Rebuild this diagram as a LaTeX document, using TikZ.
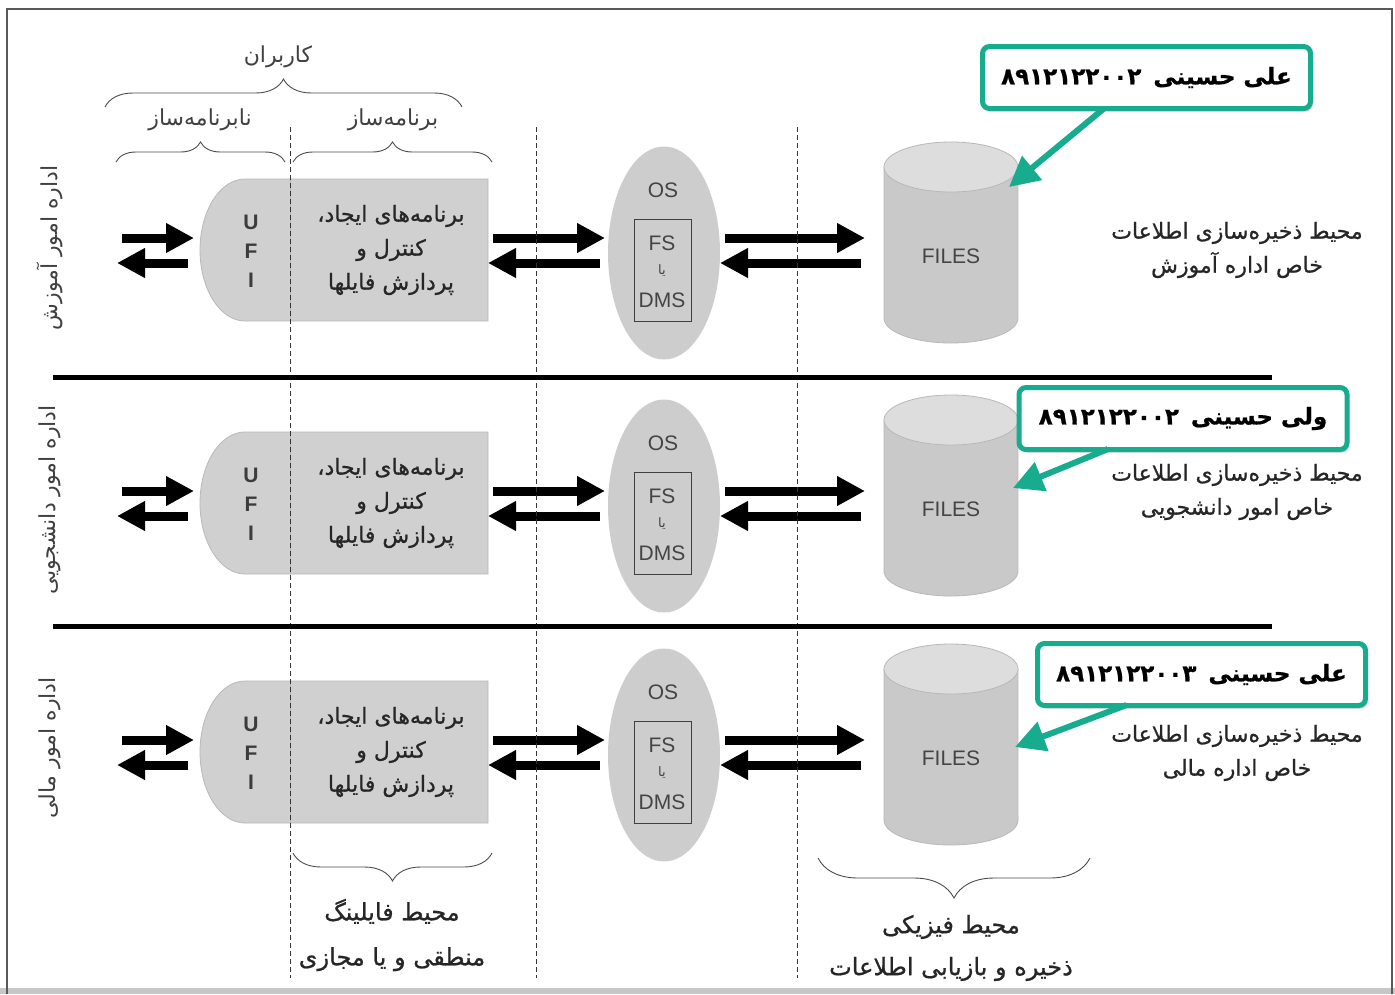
\documentclass[tikz,border=0pt]{standalone}
\usepackage{fontspec}
\setmainfont{Liberation Sans}
\newfontfamily\fafont[Script=Arabic, FakeBold=0.8]{DejaVu Sans}
\newfontfamily\falight[Script=Arabic]{DejaVu Sans}
\TeXXeTstate=1
\usetikzlibrary{arrows.meta,shapes.geometric,decorations.pathreplacing,shadows}

\definecolor{panelgray}{HTML}{D0D0D0}
\definecolor{edgegray}{HTML}{B8B8B8}
\definecolor{cylbody}{HTML}{C9C9C9}
\definecolor{cyltop}{HTML}{DDDDDD}
\definecolor{osgray}{HTML}{CDCDCD}
\definecolor{inkgray}{HTML}{262626}
\definecolor{latgray}{HTML}{444444}
\definecolor{calloutteal}{HTML}{17AC8E}

% right-to-left Persian text runs
\newcommand\fatxt[1]{{\fafont\beginR #1\endR}}
\newcommand\falighttxt[1]{{\falight\beginR #1\endR}}

\tikzset{
  framestyle/.style={draw=black!65, line width=1.2pt},
  sepline/.style={line width=5pt, black},
  dashline/.style={draw=black!80, line width=0.9pt, dash pattern=on 5pt off 3pt},
  bracestyle/.style={draw=black!70, line width=0.9pt, decorate},
  blkarrow/.style={line width=9pt, -{Triangle[length=28pt,width=28pt]}},
  callarrow/.style={draw=calloutteal, line width=6pt, -{Triangle[length=30pt,width=30pt]}},
  callbox/.style={draw=calloutteal, line width=5pt, rounded corners=7pt, fill=white,
    minimum width=328pt, minimum height=62pt, inner sep=0pt,
    drop shadow={opacity=0.35, shadow xshift=2pt, shadow yshift=-3pt},
    font=\fafont\bfseries\fontsize{23}{28}\selectfont},
  fatext/.style={text=inkgray, align=center, inner sep=0pt, font=\fontsize{22}{34}\selectfont},
  lattext/.style={text=latgray, inner sep=0pt, font=\fontsize{21}{25}\selectfont},
  sidetext/.style={text=black!75, align=center, inner sep=0pt, rotate=90, font=\fontsize{22}{26}\selectfont},
}

\begin{document}
\begin{tikzpicture}[x=1pt, y=-1pt]
\useasboundingbox (0,0) rectangle (1395,994);
\fill[white] (0,0) rectangle (1395,994);

% outer frame and bottom band
\fill[black!22] (0,988) rectangle (1395,994);
\draw[framestyle] (7,994) -- (7,9) -- (1392,9) -- (1392,994);

% users and their two groups
\node[fatext, text=black!75] (users) at (278,57) {\falighttxt{کاربران}};
\draw[bracestyle, decoration={brace, amplitude=28pt}] (105,107) -- (462,107);
\node[fatext, text=black!75] (nonprog) at (200,120) {\falighttxt{نابرنامه‌ساز}};
\node[fatext, text=black!75] (prog) at (393,120) {\falighttxt{برنامه‌ساز}};
\draw[bracestyle, decoration={brace, amplitude=20pt}] (116,162) -- (285,162);
\draw[bracestyle, decoration={brace, amplitude=20pt}] (293,162) -- (492,162);

% one band per department
\foreach \r/\dy in {1/0, 2/253, 3/502}{
\begin{scope}[yshift=-\dy pt]
  % user interface + programs panel
  \draw[fill=panelgray, draw=edgegray, line width=0.8pt]
    (488,179) -- (245,179) .. controls (220,179) and (200,211) .. (200,250)
    .. controls (200,289) and (220,321) .. (245,321) -- (488,321) -- cycle;
  \draw[edgegray, line width=0.8pt] (290,179) -- (290,321);
  \node[lattext, align=center, font=\bfseries\fontsize{21}{29}\selectfont, text=inkgray!90]
    (ufi\r) at (251,251) {U\\F\\I};
  \node[fatext, minimum width=198pt, minimum height=142pt] (prg\r) at (391,250)
    {\fatxt{برنامه‌های ایجاد،}\\\fatxt{کنترل و}\\\fatxt{پردازش فایلها}};

  % operating system with FS / DMS
  \node[ellipse, fill=osgray, minimum width=112pt, minimum height=213pt, inner sep=0pt]
    (os\r) at (664,253) {};
  \node[lattext] (ostxt\r) at (663,190) {OS};
  \node[draw=black!75, line width=1pt, minimum width=57pt, minimum height=102pt, inner sep=0pt]
    (fs\r) at (662.5,270) {};
  \node[lattext] (fstxt\r) at (662,243) {FS};
  \node[text=latgray, inner sep=0pt, font=\falight\fontsize{13}{14}\selectfont] (ya\r) at (662,271) {\beginR یا\endR};
  \node[lattext] (dmstxt\r) at (662,300) {DMS};

  % file store
  \fill[cylbody] (884,167) rectangle (1018,318);
  \fill[cylbody] (951,318) ellipse [x radius=67, y radius=25];
  \draw[edgegray, line width=0.8pt] (884,167) -- (884,318)
    .. controls (884,332) and (914,343) .. (951,343)
    .. controls (988,343) and (1018,332) .. (1018,318) -- (1018,167);
  \draw[fill=cyltop, draw=edgegray, line width=0.8pt] (951,167) ellipse [x radius=67, y radius=25];
  \node[lattext] (files\r) at (951,256) {FILES};

  % data flow arrows
  \coordinate (ua\r) at (122,238);
  \coordinate (ub\r) at (194,238);
  \coordinate (uc\r) at (188,263);
  \coordinate (ud\r) at (117,263);
  \coordinate (pa\r) at (493,238);
  \coordinate (pb\r) at (605,238);
  \coordinate (pc\r) at (600,263);
  \coordinate (pd\r) at (488,263);
  \coordinate (oa\r) at (725,238);
  \coordinate (ob\r) at (865,238);
  \coordinate (oc\r) at (861,263);
  \coordinate (od\r) at (720,263);
  \draw[blkarrow] (ua\r) -- (ub\r);
  \draw[blkarrow] (uc\r) -- (ud\r);
  \draw[blkarrow] (pa\r) -- (pb\r);
  \draw[blkarrow] (pc\r) -- (pd\r);
  \draw[blkarrow] (oa\r) -- (ob\r);
  \draw[blkarrow] (oc\r) -- (od\r);
\end{scope}
}

% vertical boundaries between environments
\draw[dashline] (290,127) -- (290,978);
\draw[dashline] (536,127) -- (536,978);
\draw[dashline] (797,127) -- (797,978);

% department separators
\draw[sepline] (53,377) -- (1272,377);
\draw[sepline] (53,626) -- (1272,626);

% department names
\node[sidetext] (dep1) at (50,248) {\falighttxt{اداره امور آموزش}};
\node[sidetext] (dep2) at (50,500) {\falighttxt{اداره امور دانشجویی}};
\node[sidetext] (dep3) at (50,748) {\falighttxt{اداره امور مالی}};

% storage descriptions
\node[fatext] (store1) at (1237,250) {\fatxt{محیط ذخیره‌سازی اطلاعات}\\\fatxt{خاص اداره آموزش}};
\node[fatext] (store2) at (1237,492) {\fatxt{محیط ذخیره‌سازی اطلاعات}\\\fatxt{خاص امور دانشجویی}};
\node[fatext] (store3) at (1237,753) {\fatxt{محیط ذخیره‌سازی اطلاعات}\\\fatxt{خاص اداره مالی}};

% name callouts
\coordinate (tip1) at (1009,187);
\coordinate (tip2) at (1013,488);
\coordinate (tip3) at (1015,747);
\node[callbox] (call1) at (1146.5,77.5) {\beginR علی حسینی\hspace{12pt}۸۹۱۲۱۲۲۰۰۲\endR};
\node[callbox] (call2) at (1183,418.5) {\beginR ولی حسینی\hspace{12pt}۸۹۱۲۱۲۲۰۰۲\endR};
\node[callbox] (call3) at (1201.5,674.5) {\beginR علی حسینی\hspace{12pt}۸۹۱۲۱۲۲۰۰۳\endR};
\draw[callarrow] ([xshift=-42pt,yshift=3pt]call1.south) -- (tip1);
\draw[callarrow] ([xshift=-75pt,yshift=3pt]call2.south) -- (tip2);
\draw[callarrow] ([xshift=-75pt,yshift=3pt]call3.south) -- (tip3);

% environment labels under the bands
\draw[bracestyle, decoration={brace, amplitude=28pt, mirror}] (293,853) -- (492,853);
\node[fatext, font=\fontsize{24}{45}\selectfont] (logical) at (392,935) {\fatxt{محیط فایلینگ}\\\fatxt{منطقی و یا مجازی}};
\draw[bracestyle, decoration={brace, amplitude=40pt, mirror}] (818,858) -- (1090,858);
\node[fatext, font=\fontsize{24}{42}\selectfont] (physical) at (951,948) {\fatxt{محیط فیزیکی}\\\fatxt{ذخیره و بازیابی اطلاعات}};
\end{tikzpicture}
\end{document}
